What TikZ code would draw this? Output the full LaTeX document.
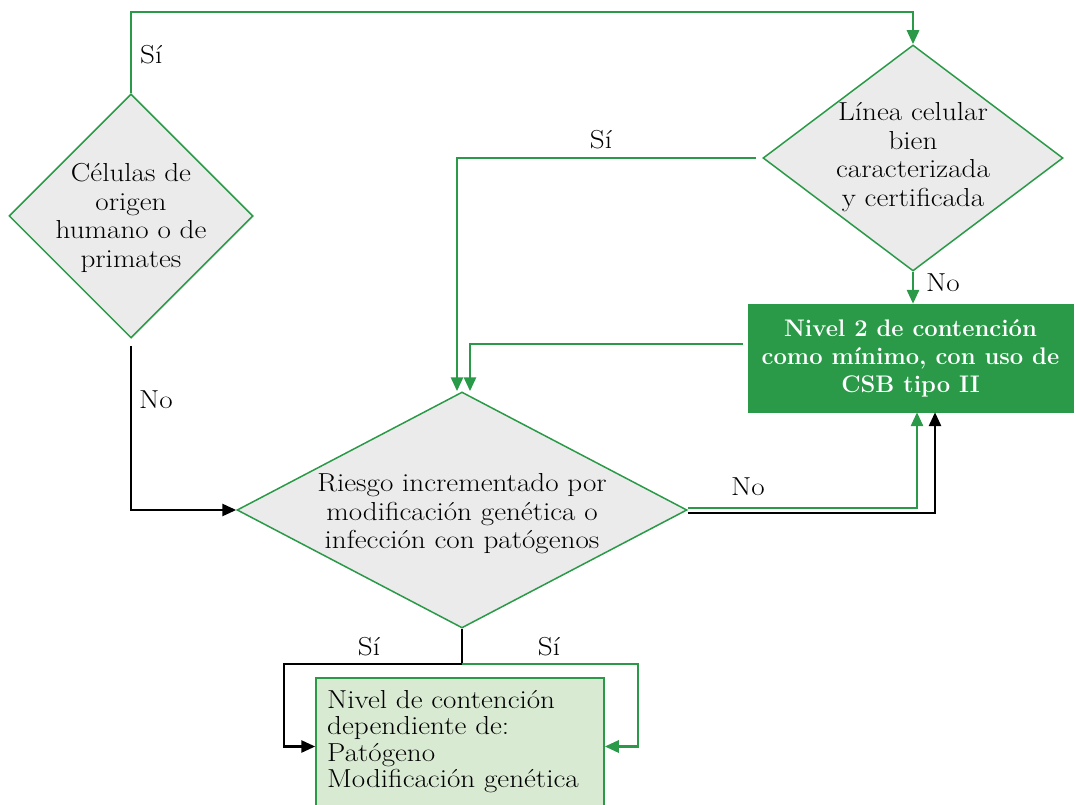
\documentclass[tikz,border=0pt]{standalone}
\usepackage{fontspec}
\setmainfont{Latin Modern Roman}[FakeStretch=1.12]
\newfontfamily\boxfont{Latin Modern Roman}[FakeStretch=0.99]
\usetikzlibrary{shapes.geometric,arrows.meta,calc}
\definecolor{gr}{RGB}{42,154,72}
\definecolor{lgr}{RGB}{217,234,211}
\definecolor{gy}{RGB}{235,235,235}
\begin{document}
\begin{tikzpicture}[x=1pt,y=-1pt,
  every node/.style={font=\fontsize{26}{28.5}\selectfont},
  dia/.style={diamond,draw=gr,line width=1.5pt,fill=gy,inner sep=0pt},
  txt/.style={align=center,inner sep=0pt},
  gl/.style={draw=gr,line width=2.8pt},
  bk/.style={draw=black,line width=2.7pt},
  tip/.style={-{Triangle[length=14pt,width=12pt]}},
  lbl/.style={inner sep=0pt}
]
\useasboundingbox (0,0) rectangle (1076,805);

\node[dia,aspect=1,minimum width=244pt,minimum height=244pt] (d1) at (131,216) {};
\node[txt] (d1t) at ([yshift=-2pt]d1.center) {Células de\\origen\\humano o de\\primates};
\node[dia,aspect=1.327,minimum width=300pt,minimum height=226pt] (d2) at (913,158) {};
\node[txt] (d2t) at ([yshift=1pt]d2.center) {Línea celular\\bien\\caracterizada\\y certificada};
\node[dia,aspect=1.907,minimum width=450pt,minimum height=236pt] (d3) at (462,510) {};
\node[txt] (d3t) at ([yshift=-4pt]d3.center) {Riesgo incrementado por\\modificación genética o\\infección con patógenos};
\node[draw=gr,fill=gr,text=white,minimum width=325pt,minimum height=108pt,inner sep=0pt,align=center,font=\boxfont\fontsize{24}{28}\selectfont\bfseries] (b1) at (910.5,358) {Nivel 2 de contención\\como mínimo, con uso de\\CSB tipo II};
\node[draw=gr,line width=1.5pt,fill=lgr,minimum width=288pt,minimum height=137pt,inner sep=0pt] (b2) at (460,746.5) {};
\node[anchor=north west,align=left,inner sep=0pt,font=\fontsize{26}{26.5}\selectfont] (b2t) at (327,690) {Nivel de contención\\dependiente de:\\Patógeno\\Modificación genética};

\coordinate (t1) at (131,12);
\draw[gl,tip] (d1.north) -- (t1) -| (d2.north);
\node[lbl,anchor=west] (s1) at (140,55) {Sí};

\draw[gl,tip,shorten <=6pt] (d2.west) -| ([xshift=-5pt]d3.north);
\node[lbl] (s2) at (601,140) {Sí};

\draw[gl,tip,shorten <=5pt] ([yshift=14pt]b1.west) -| ([xshift=8pt]d3.north);

\draw[gl,tip] (d2.south) -- (d2.south |- b1.north);
\node[lbl,anchor=west] (n1) at (926,283) {No};

\draw[bk,tip,shorten <=7pt] (d1.south) |- (d3.west);
\node[lbl,anchor=west] (n2) at (139,400) {No};

\draw[gl,tip] ([yshift=2pt]d3.east) -| ([xshift=6.5pt]b1.south);
\draw[bk,tip] ([yshift=-3pt]d3.east) -| ([xshift=24.5pt]b1.south);
\node[lbl] (n3) at (748,487) {No};

\coordinate (j) at (462,664);
\coordinate (bl) at (284,664);
\coordinate (br) at (638,664);
\draw[bk,tip] (d3.south) -- (j) -- (bl) |- (b2.west);
\draw[gl,tip] (j) -- (br) |- (b2.east);
\node[lbl] (s3) at (369,647) {Sí};
\node[lbl] (s4) at (549,647) {Sí};
\end{tikzpicture}
\end{document}
